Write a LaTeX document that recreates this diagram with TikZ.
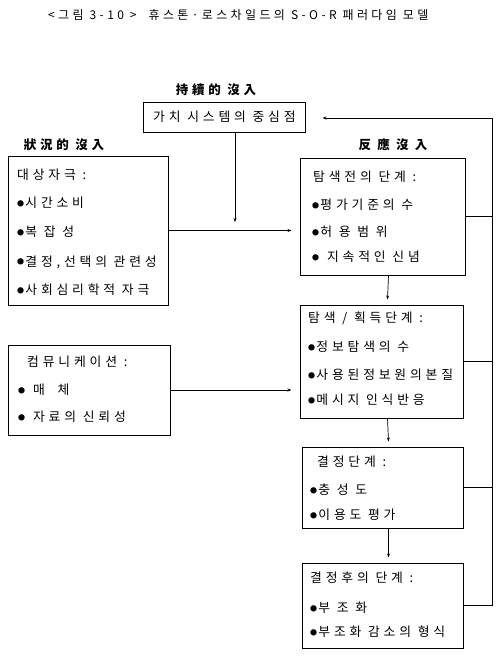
\documentclass[tikz,border=0pt]{standalone}
\usepackage{fontspec}
\setmainfont{Noto Sans CJK KR}
\usetikzlibrary{arrows.meta}
\tikzset{
  box/.style={draw, line width=1pt, inner sep=0pt},
  link/.style={line width=0.7pt},
  arr/.style={line width=0.7pt, -{Stealth[length=4pt, width=3pt]}},
  txt/.style={anchor=west, inner sep=0pt, font=\fontsize{12.8}{14}\selectfont\addfontfeature{LetterSpace=30}},
  head/.style={inner sep=0pt, font=\bfseries\fontsize{12.5}{14}\selectfont\addfontfeature{LetterSpace=30}},
}
\newcommand{\bul}{\raisebox{1.5pt}{\fontsize{7}{7}\selectfont ●}\hspace{1.2pt}}

\begin{document}
\begin{tikzpicture}[x=1pt, y=-1pt]
  \useasboundingbox (0,0) rectangle (502,658);
  % title
  \node[txt, font=\fontsize{12}{14}\selectfont\addfontfeature{LetterSpace=28}] (title) at (48,15) {<그림 3-10 >\quad 휴스톤·로스차일드의 S-O-R 패러다임 모델};
  % headings
  \node[head] (hcont) at (216,90) {持續的 沒入};
  \node[head] (hsit) at (64,145) {狀況的 沒入};
  \node[head] (hresp) at (393,145) {反\enspace 應\enspace 沒\enspace 入};
  % boxes
  \node[box, minimum width=162, minimum height=29] (val) at (224,117.5) {};
  \node[box, minimum width=160, minimum height=149] (stim) at (88,230.5) {};
  \node[box, minimum width=162, minimum height=90] (comm) at (89,390) {};
  \node[box, minimum width=165, minimum height=117] (pre) at (382.5,216.5) {};
  \node[box, minimum width=163, minimum height=113] (srch) at (381.5,361.5) {};
  \node[box, minimum width=161, minimum height=81] (dec) at (382.5,487.5) {};
  \node[box, minimum width=161, minimum height=85] (post) at (382.5,605.5) {};
  % box texts
  \node[txt] (t0) at (153,117) {가치 시스템의 중심점};
  \node[txt] (s0) at (17,175) {대상자극 :};
  \node[txt] (s1) at (17,203) {\bul 시간소비};
  \node[txt] (s2) at (17,232) {\bul 복 잡 성};
  \node[txt] (s3) at (17,262) {\bul 결정,선택의 관련성};
  \node[txt] (s4) at (17,290) {\bul 사회심리학적 자극};
  \node[txt] (c0) at (27,362) {컴뮤니케이션 :};
  \node[txt] (c1) at (18,390) {\bul\ 매\quad 체};
  \node[txt] (c2) at (18,417) {\bul\ 자료의 신뢰성};
  \node[txt] (p0) at (313,177) {탐색전의 단계 :};
  \node[txt] (p1) at (312,205) {\bul 평가기준의 수};
  \node[txt] (p2) at (312,232) {\bul 허 용 범 위};
  \node[txt] (p3) at (312,257) {\bul\ 지속적인 신념};
  \node[txt] (r0) at (308,318) {탐색 / 획득단계 :};
  \node[txt] (r1) at (308,347) {\bul 정보탐색의 수};
  \node[txt] (r2) at (308,375) {\bul 사용된정보원의본질};
  \node[txt] (r3) at (308,400) {\bul 메시지 인식반응};
  \node[txt] (d0) at (317,462) {결정단계 :};
  \node[txt] (d1) at (310,490) {\bul 충 성 도};
  \node[txt] (d2) at (310,515) {\bul 이용도 평가};
  \node[txt] (q0) at (310,578) {결정후의 단계 :};
  \node[txt] (q1) at (310,608) {\bul 부 조 화};
  \node[txt] (q2) at (310,632) {\bul 부조화 감소의 형식};
  % connectors
  \coordinate (drop) at (235,222);
  \coordinate (rail) at (492,118);
  \draw[arr] (val.south -| drop) -- (drop);
  \draw[arr] (stim.east) -- ([xshift=-8pt]pre.west |- stim.east);
  \draw[arr] (comm.east) -- ([xshift=-8pt]srch.west |- comm.east);
  \draw[arr] ([xshift=6pt]pre.south) -- ([xshift=6pt, yshift=5pt]srch.north);
  \draw[arr] ([xshift=6pt]srch.south) -- ([xshift=6pt, yshift=5pt]dec.north);
  \draw[arr] ([xshift=6pt]dec.south) -- ([xshift=6pt, yshift=5pt]post.north);
  \draw[link] (pre.east) -- (pre.east -| rail);
  \draw[link] (srch.east) -- (srch.east -| rail);
  \draw[link] (dec.east) -- (dec.east -| rail);
  \draw[arr] (post.east) -- (post.east -| rail) -- (rail) -- ([xshift=17pt]val.east |- rail);
\end{tikzpicture}
\end{document}
